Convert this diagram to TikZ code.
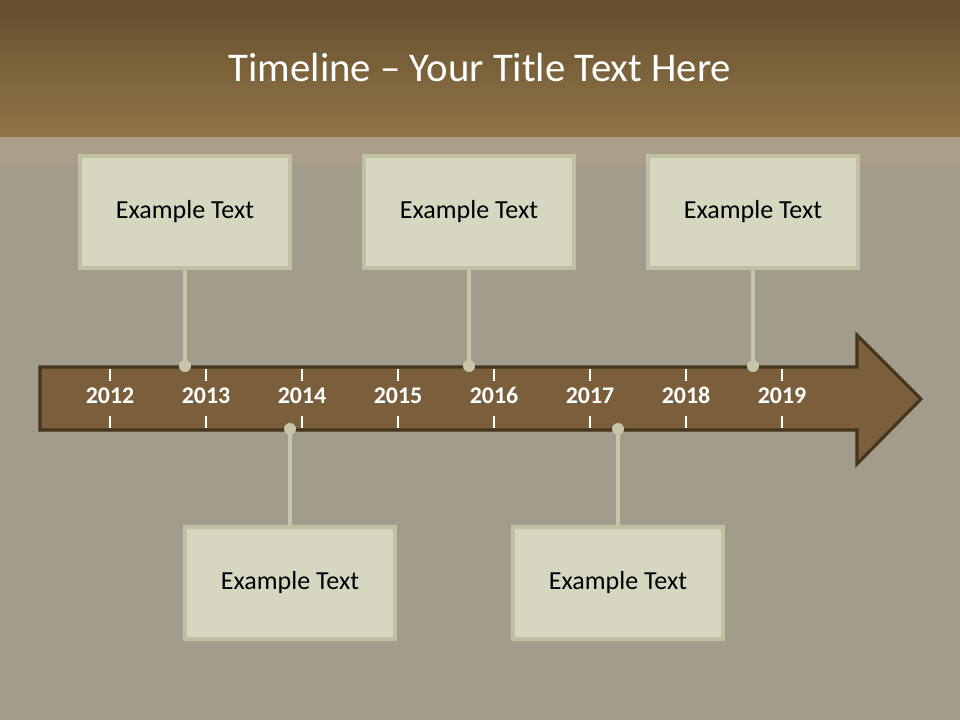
\documentclass[tikz,border=0pt]{standalone}
\usepackage{fontspec}
\setmainfont{Carlito}
\usetikzlibrary{positioning}
\definecolor{bandtop}{HTML}{634E2E}
\definecolor{bandbot}{HTML}{937647}
\definecolor{stripcol}{HTML}{AA9E8B}
\definecolor{wallcol}{HTML}{A29C8C}
\definecolor{arrowfill}{HTML}{7B5F3B}
\definecolor{arrowline}{HTML}{45351D}
\definecolor{boxfill}{HTML}{D6D6C1}
\definecolor{boxline}{HTML}{C0C0A2}
\definecolor{stemcol}{HTML}{C6C6AB}

\begin{document}
\begin{tikzpicture}[x=0.025cm, y=-0.025cm,
    box/.style={draw=boxline, fill=boxfill, line width=2.2pt, minimum width=5.25cm, minimum height=2.8cm,
        font=\fontsize{18.5}{22}\selectfont, text=black},
    year/.style={font=\fontsize{17}{20}\selectfont\bfseries, text=white, anchor=base},
    tickmark/.style={draw=white, line width=0.8pt},
    stem/.style={draw=stemcol, line width=3pt},
    dot/.style={circle, fill=stemcol, minimum size=0.3cm, inner sep=0pt}]
    \useasboundingbox (0,0) rectangle (960,720);
    % background
    \fill[wallcol] (0,0) rectangle (960,720);
    \fill[stripcol] (0,137) rectangle (960,165);
    \shade[top color=bandtop, bottom color=bandbot] (0,0) rectangle (960,137);
    \node[text=white, font=\fontsize{29}{34}\selectfont] (title) at (480,67) {Timeline -- Your Title Text Here};

    % the arrow
    \draw[fill=arrowfill, draw=arrowline, line width=2.2pt, line join=miter]
        (40,367) -- (857,367) -- (857,335) -- (921,399) -- (857,464) -- (857,430) -- (40,430) -- cycle;
    \foreach \yr [count=\i from 0] in {2012,2013,2014,2015,2016,2017,2018,2019} {
        \node[year] (y\yr) at (110+96*\i,404) {\yr};
        \draw[tickmark] (110+96*\i,369) -- (110+96*\i,381);
        \draw[tickmark] (110+96*\i,416) -- (110+96*\i,428);
    }

    % boxes
    \node[box] (top1) at (185,212) {Example Text};
    \node[box] (top2) at (469,212) {Example Text};
    \node[box] (top3) at (753,212) {Example Text};
    \node[box] (bot1) at (290,583) {Example Text};
    \node[box] (bot2) at (618,583) {Example Text};

    \node[dot] (d1) at (185,366) {};
    \node[dot] (d2) at (469,366) {};
    \node[dot] (d3) at (753,366) {};
    \node[dot] (d4) at (290,429) {};
    \node[dot] (d5) at (618,429) {};

    \draw[stem] (top1) -- (d1);
    \draw[stem] (top2) -- (d2);
    \draw[stem] (top3) -- (d3);
    \draw[stem] (bot1) -- (d4);
    \draw[stem] (bot2) -- (d5);
\end{tikzpicture}
\end{document}
